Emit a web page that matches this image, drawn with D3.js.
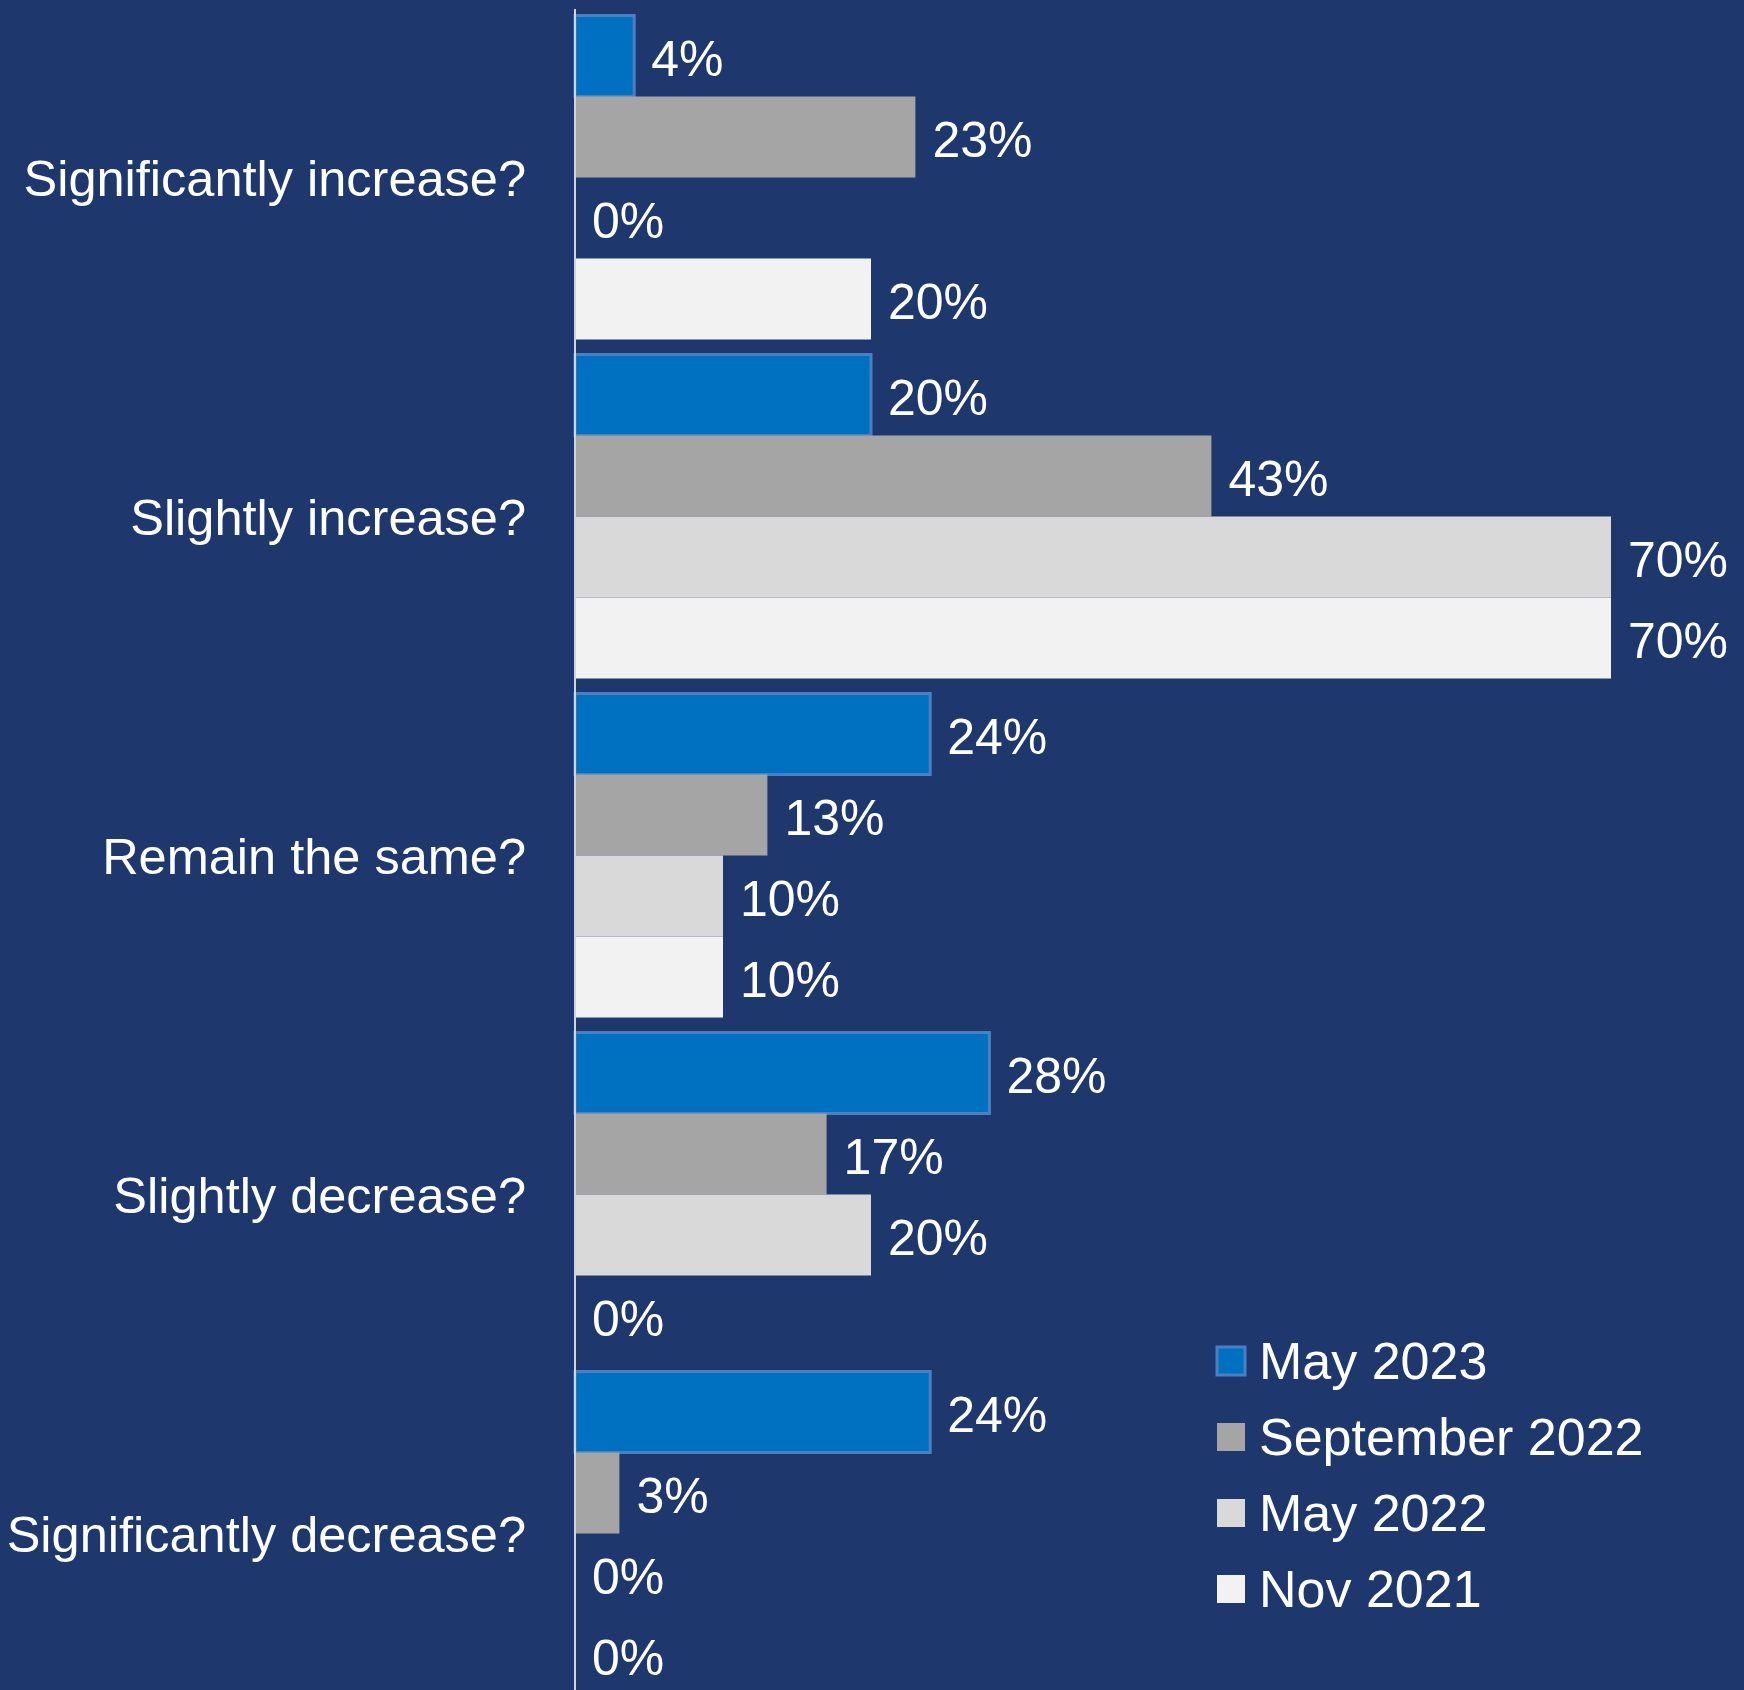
<!DOCTYPE html>
<html>
<head>
<meta charset="utf-8">
<script src="https://cdn.jsdelivr.net/npm/d3@7"></script>
<style>
  html, body { margin: 0; padding: 0; background: #1E386E; }
  svg { display: block; }
  text { font-family: "Liberation Sans", Arial, sans-serif; fill: #FFFFFF; }
</style>
</head>
<body>
<script>
// Survey answers, grouped by question, one value per survey wave (percent)
const categories = [
  "Significantly increase?",
  "Slightly increase?",
  "Remain the same?",
  "Slightly decrease?",
  "Significantly decrease?"
];
const seriesNames = ["May 2023", "September 2022", "May 2022", "Nov 2021"];
const may2023 = [4, 20, 24, 28, 24];
const sep2022 = [23, 43, 13, 17, 3];
const may2022 = [0, 70, 10, 20, 0];
const nov2021 = [20, 70, 10, 0, 0];
const seriesValues = [may2023, sep2022, may2022, nov2021];
const seriesColors = ["#0070C0", "#A5A5A5", "#D9D9D9", "#F2F2F2"];

const W = 1744, H = 1690;
const svg = d3.select("body").append("svg").attr("width", W).attr("height", H);

const x = d3.scaleLinear().domain([0, 80]).range([575, 575 + 14.8 * 80]);

const y = d3.scaleBand()
  .domain(categories)
  .range([8, 8 + 5 * 339])
  .paddingInner(15 / 339)
  .paddingOuter(7.5 / 339);

const ySeries = d3.scaleBand()
  .domain(seriesNames)
  .range([0, y.bandwidth()])
  .padding(0);

const rows = [];
categories.forEach((c, ci) => {
  seriesNames.forEach((s, si) => {
    rows.push({ cat: c, series: s, si, value: seriesValues[si][ci] });
  });
});

// Bars
svg.append("g").selectAll("rect")
  .data(rows.filter(d => d.value > 0))
  .join("rect")
  .attr("x", x(0))
  .attr("y", d => y(d.cat) + ySeries(d.series))
  .attr("width", d => x(d.value) - x(0))
  .attr("height", ySeries.bandwidth())
  .attr("fill", d => seriesColors[d.si])
  .attr("stroke", d => d.si === 0 ? "#4A7FC2" : "none")
  .attr("stroke-width", d => d.si === 0 ? 3 : 0);

// Value labels
svg.append("g").selectAll("text")
  .data(rows)
  .join("text")
  .attr("x", d => x(d.value) + 17)
  .attr("y", d => y(d.cat) + ySeries(d.series) + ySeries.bandwidth() / 2 + 20)
  .attr("font-size", 50)
  .text(d => d.value + "%");

// Category axis (line only, labels to the left)
const yAxis = d3.axisLeft(y).tickSize(0).tickPadding(49);
const axisG = svg.append("g").attr("transform", `translate(${x(0)},0)`).call(yAxis);
axisG.select(".domain").remove();
axisG.selectAll("text")
  .attr("font-size", 50.5)
  .attr("dy", null)
  .attr("dominant-baseline", "auto")
  .attr("y", 18)
  .style("font-family", "'Liberation Sans', Arial, sans-serif")
  .attr("fill", "#FFFFFF");

svg.append("line")
  .attr("x1", x(0)).attr("x2", x(0))
  .attr("y1", 9).attr("y2", H)
  .attr("stroke", "#D0D4DE")
  .attr("stroke-width", 2);

// Legend
const legend = svg.append("g").attr("transform", "translate(1217,1361)");
const li = legend.selectAll("g")
  .data(seriesNames)
  .join("g")
  .attr("transform", (d, i) => `translate(0,${i * 76})`);
li.append("rect")
  .attr("x", 0).attr("y", -14)
  .attr("width", 28).attr("height", 28)
  .attr("fill", (d, i) => seriesColors[i])
  .attr("stroke", (d, i) => i === 0 ? "#4A7FC2" : "none")
  .attr("stroke-width", 3);
li.append("text")
  .attr("x", 42).attr("y", 18)
  .attr("font-size", 52)
  .text(d => d);
</script>
</body>
</html>
